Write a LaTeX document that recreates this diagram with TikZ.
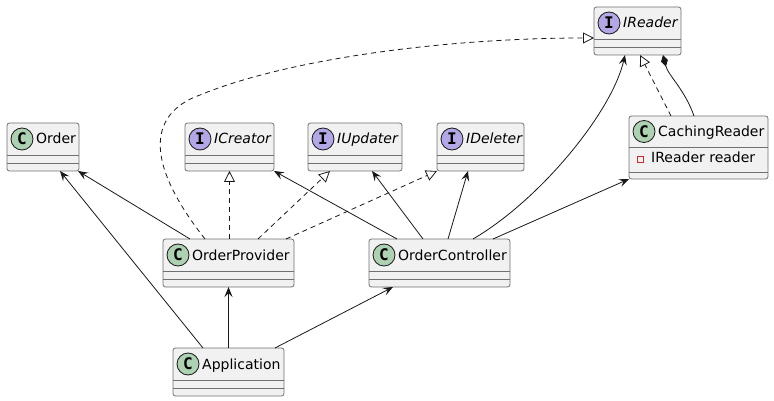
\documentclass[tikz,border=0pt]{standalone}
\usepackage{fontspec}
\setmainfont{DejaVu Sans}
\newfontfamily\spotfont{DejaVu Sans Mono}
\usetikzlibrary{arrows.meta}
\definecolor{boxfill}{HTML}{F1F1F1}
\definecolor{boxline}{HTML}{707070}
\definecolor{edgeline}{HTML}{181818}
\definecolor{spotc}{HTML}{ADD1B2}
\definecolor{spoti}{HTML}{B4A7E5}
\definecolor{privred}{HTML}{C82930}
\begin{document}
\begin{tikzpicture}[
    x=1pt,
    y=-1pt,
    classbox/.style={draw=boxline,fill=boxfill,rounded corners=2.5pt,line width=0.8pt,
      anchor=north west,inner sep=0pt,outer sep=0pt,minimum height=48pt},
    sepline/.style={draw=boxline,line width=0.8pt},
    spot/.style={circle,draw=edgeline,line width=0.8pt,minimum size=22pt,inner sep=0pt,
      font=\spotfont\bfseries\fontsize{16}{16}\selectfont},
    title/.style={anchor=base west,inner sep=0pt,font=\fontsize{14}{16}\selectfont},
    dep/.style={draw=edgeline,line width=0.8pt,-{Stealth[length=10pt,width=8pt,inset=4pt]}},
    realize/.style={draw=edgeline,line width=0.8pt,dash pattern=on 5pt off 4pt,
      -{Triangle[length=11pt,width=11pt,fill=white,line width=0.8pt,sep=0pt]}},
    compose/.style={draw=edgeline,line width=0.8pt,-{Diamond[length=12pt,width=7pt]}}
  ]
    \useasboundingbox (0,0) rectangle (774,401);

    % classes
    \foreach \name/\x/\y/\w/\txt in {order/7/123/72/Order,
        provider/163/239/131/OrderProvider,
        controller/369/239/141/OrderController,
        app/173/348/111/Application} {
      \node[classbox,minimum width=\w] (\name) at (\x,\y) {};
      \draw[sepline] ([yshift=-32pt]\name.north west) -- ([yshift=-32pt]\name.north east);
      \draw[sepline] ([yshift=-40pt]\name.north west) -- ([yshift=-40pt]\name.north east);
      \node[spot,fill=spotc] (\name-spot) at ([xshift=15pt,yshift=-16pt]\name.north west) {C};
      \node[title] (\name-title) at ([xshift=29pt,yshift=-21pt]\name.north west) {\txt};
    }

    % interfaces
    \foreach \name/\x/\y/\w/\txt in {icreator/185/123/89/ICreator,
        iupdater/308/123/94/IUpdater,
        ideleter/437/123/87/IDeleter,
        ireader/594/7/87/IReader} {
      \node[classbox,minimum width=\w] (\name) at (\x,\y) {};
      \draw[sepline] ([yshift=-32pt]\name.north west) -- ([yshift=-32pt]\name.north east);
      \draw[sepline] ([yshift=-40pt]\name.north west) -- ([yshift=-40pt]\name.north east);
      \node[spot,fill=spoti] (\name-spot) at ([xshift=15pt,yshift=-16pt]\name.north west) {I};
      \node[title] (\name-title) at ([xshift=29pt,yshift=-21pt]\name.north west) {\itshape\txt};
    }

    % class with a field
    \node[classbox,minimum width=139,minimum height=63] (caching) at (629,116) {};
    \draw[sepline] ([yshift=-31pt]caching.north west) -- ([yshift=-31pt]caching.north east);
    \draw[sepline] ([yshift=-56pt]caching.north west) -- ([yshift=-56pt]caching.north east);
    \node[spot,fill=spotc] (caching-spot) at ([xshift=15pt,yshift=-15.5pt]caching.north west) {C};
    \node[title] (caching-title) at ([xshift=29pt,yshift=-21pt]caching.north west) {CachingReader};
    \node[draw=privred,line width=0.7pt,minimum size=6pt,inner sep=0pt] (caching-priv)
      at ([xshift=11pt,yshift=-43pt]caching.north west) {};
    \node[title] (caching-field) at ([xshift=22pt,yshift=-47pt]caching.north west) {IReader reader};

    % dependencies
    \draw[dep] ([xshift=27pt]provider.north west) -- ([xshift=-1pt]order.south east);
    \draw[dep] ([xshift=30pt]app.north west) -- ([xshift=53pt]order.south west);
    \draw[dep] ([xshift=28pt]controller.north west) -- (icreator.south east);
    \draw[dep] ([xshift=54pt]controller.north west) -- ([xshift=64pt]iupdater.south west);
    \draw[dep] ([xshift=79pt]controller.north west) -- ([xshift=31pt]ideleter.south west);
    \draw[dep] ([xshift=104pt]controller.north west)
      .. controls (540,200) and (612,112) .. ([xshift=31pt]ireader.south west);
    \draw[dep] ([xshift=124pt]controller.north west) -- (caching.south west);
    \draw[dep] (provider.south |- app.north) -- (provider.south);
    \draw[dep] ([xshift=102pt]app.north west) -- ([xshift=24pt]controller.south west);

    % realizations
    \draw[realize] (icreator.south |- provider.north) -- (icreator.south);
    \draw[realize] ([xshift=95pt]provider.north west) -- ([xshift=22pt]iupdater.south west);
    \draw[realize] ([xshift=-8pt]provider.north east) -- (ideleter.south west);
    \draw[realize] ([xshift=42pt]caching.north west) -- ([xshift=46pt]ireader.south west);
    \draw[realize] ([xshift=42pt]provider.north west)
      .. controls (135,150) and (158,110) .. (200,95)
      .. controls (290,58) and (450,38) .. ([yshift=-31pt]ireader.north west);

    % composition
    \draw[compose] ([xshift=65pt]caching.north west)
      .. controls (685,90) and (668,75) .. ([xshift=69pt]ireader.south west);
  \end{tikzpicture}
\end{document}
